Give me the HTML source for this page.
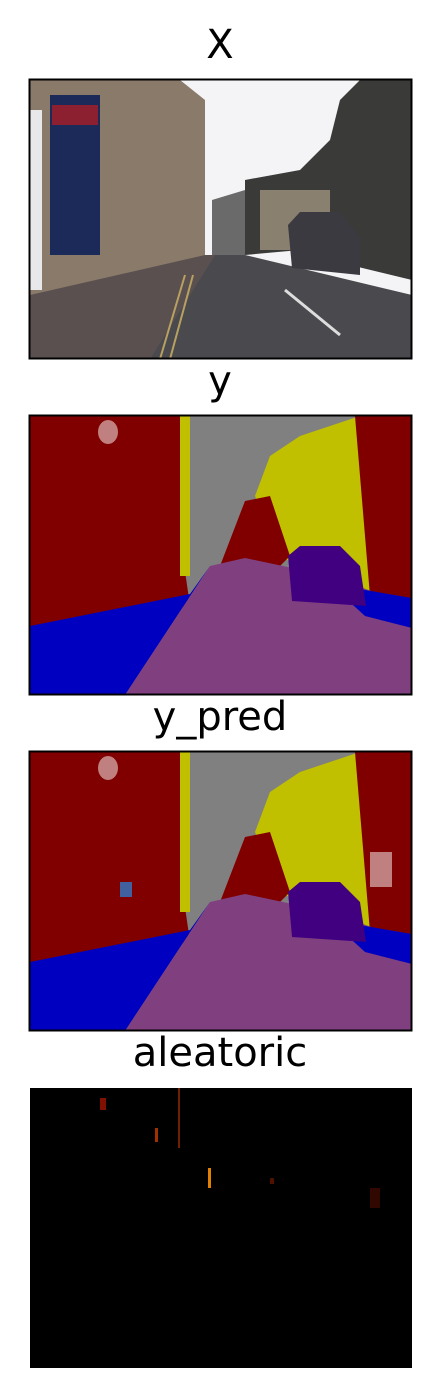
<!DOCTYPE html>
<html><head><meta charset="utf-8"><style>
html,body{margin:0;padding:0;background:#fff;}
svg{display:block;}
text{font-family:"DejaVu Sans","Liberation Sans",sans-serif;font-size:40px;fill:#000;}
</style></head><body>
<svg width="440" height="1397" viewBox="0 0 440 1397">
<defs>
<clipPath id="cp"><rect x="0" y="0" width="382" height="279"/></clipPath>
<g id="seg">
  <rect x="0" y="0" width="382" height="279" fill="#808080"/>
  <polygon points="0,0 150,0 150,120 160,190 0,215" fill="#800000"/>
  <polygon points="225,80 240,40 270,20 300,10 330,0 382,0 382,190 330,185 250,140" fill="#c0c000"/>
  <polygon points="320,0 382,0 382,190 340,180 330,60 325,0" fill="#800000"/>
  <polygon points="190,150 215,85 240,80 260,140 250,150" fill="#800000"/>
  <polygon points="150,0 160,0 160,160 150,160" fill="#c0c000"/>
  <ellipse cx="78" cy="16" rx="10" ry="12" fill="#c08080"/>
  <polygon points="0,210 160,178 180,150 95,279 0,279" fill="#0000c0"/>
  <polygon points="95,279 180,150 215,142 300,160 382,190 382,279" fill="#804080"/>
  <polygon points="300,168 382,182 382,212 335,200" fill="#0000c0"/>
  <polygon points="258,140 270,130 310,130 330,150 336,190 262,185" fill="#400080"/>
</g>
</defs>

<text x="220" y="58" text-anchor="middle">X</text>
<g transform="translate(30,80)" clip-path="url(#cp)">
  <rect x="0" y="0" width="382" height="279" fill="#f4f4f6"/>
  <polygon points="0,0 150,0 175,20 175,200 0,270" fill="#8a7a6a"/>
  <rect x="20" y="15" width="50" height="160" fill="#1c2a5a"/>
  <rect x="22" y="25" width="46" height="20" fill="#8c2030"/>
  <rect x="0" y="30" width="12" height="180" fill="#e8e8ea"/>
  <polygon points="182,120 215,110 215,175 182,180" fill="#6a6a6a"/>
  <polygon points="215,100 270,90 300,60 310,20 330,0 382,0 382,200 320,185 270,170 215,175" fill="#3a3a38"/>
  <polygon points="230,110 300,110 300,170 230,170" fill="#8a8070"/>
  <polygon points="0,215 175,175 200,175 120,279 0,279" fill="#5a5050"/>
  <polygon points="120,279 185,175 215,175 382,215 382,279" fill="#4a4a4e"/>
  <polygon points="258,145 270,132 310,132 330,158 330,195 262,188" fill="#3a3a40"/>
  <line x1="255" y1="210" x2="310" y2="255" stroke="#ddd" stroke-width="3"/>
  <line x1="155" y1="195" x2="130" y2="279" stroke="#b8a060" stroke-width="2"/>
  <line x1="163" y1="195" x2="140" y2="279" stroke="#b8a060" stroke-width="2"/>
</g>
<rect x="29.5" y="79.5" width="382" height="279" fill="none" stroke="#000" stroke-width="2"/>

<text x="220" y="394" text-anchor="middle">y</text>
<g transform="translate(30,416)" clip-path="url(#cp)"><use href="#seg"/></g>
<rect x="29.5" y="415.5" width="382" height="279" fill="none" stroke="#000" stroke-width="2"/>

<text x="220" y="730" text-anchor="middle">y_pred</text>
<g transform="translate(30,752)" clip-path="url(#cp)">
  <use href="#seg"/>
  <rect x="340" y="100" width="22" height="35" fill="#c08080"/>
  <rect x="90" y="130" width="12" height="15" fill="#4060a0"/>
</g>
<rect x="29.5" y="751.5" width="382" height="279" fill="none" stroke="#000" stroke-width="2"/>

<text x="220" y="1066" text-anchor="middle">aleatoric</text>
<g transform="translate(30,1088)">
  <rect x="0" y="0" width="382" height="280" fill="#000"/>
  <rect x="70" y="10" width="6" height="12" fill="#801000"/>
  <rect x="148" y="0" width="2" height="60" fill="#702000"/>
  <rect x="178" y="80" width="3" height="20" fill="#e08000"/>
  <rect x="125" y="40" width="3" height="14" fill="#a03000"/>
  <rect x="240" y="90" width="4" height="6" fill="#501000"/>
  <rect x="340" y="100" width="10" height="20" fill="#300800"/>
</g>
</svg>
</body></html>
